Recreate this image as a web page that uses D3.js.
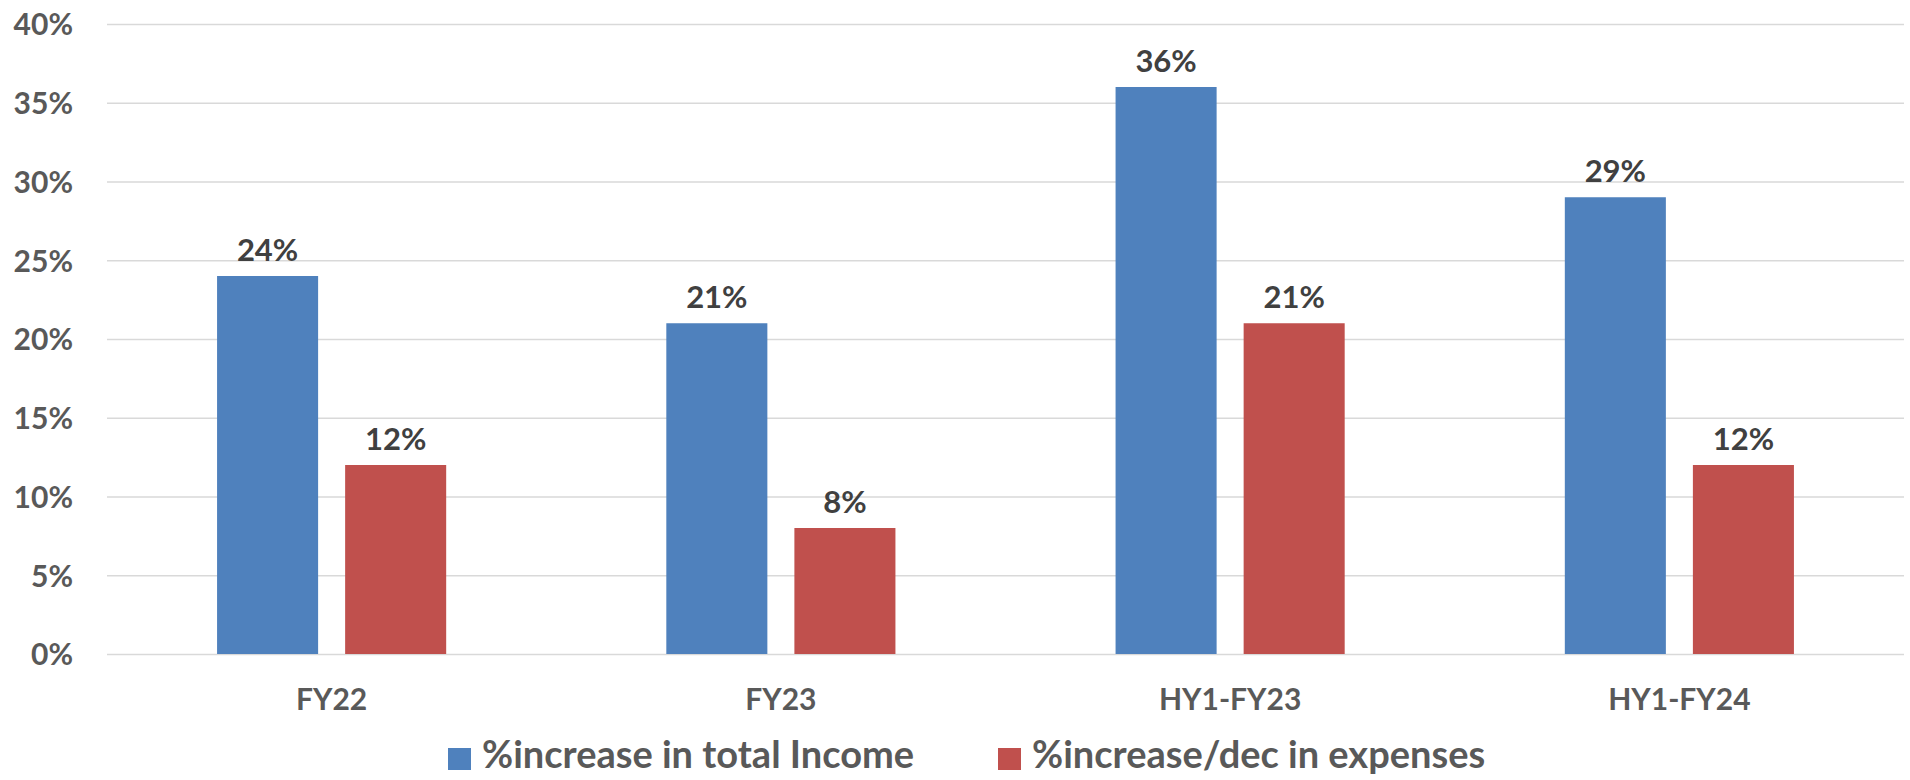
<!DOCTYPE html>
<html>
<head>
<meta charset="utf-8">
<script src="https://cdn.jsdelivr.net/npm/d3@7"></script>
<style>
  body { margin: 0; background: #fff; }
  text { font-family: Lato, "Open Sans", sans-serif; font-weight: bold; }
  .axis path { display: none; }
  .axis line { stroke: #d9d9d9; stroke-width: 1.5; }
  .axis text { fill: #595959; font-size: 30px; }
</style>
</head>
<body>
<svg id="chart"></svg>
<script>
var categories = ["FY22", "FY23", "HY1-FY23", "HY1-FY24"];
var seriesNames = ["%increase in total Income", "%increase/dec in expenses"];
var incomeValues = [0.24, 0.21, 0.36, 0.29];
var expenseValues = [0.12, 0.08, 0.21, 0.12];
var yTicks = [0, 0.05, 0.10, 0.15, 0.20, 0.25, 0.30, 0.35, 0.40];
var colors = ["#4f81bd", "#c0504d"];

var width = 1910, height = 780;
var margin = {top: 24, right: 6, bottom: 126, left: 107};

var svg = d3.select("#chart")
  .attr("width", width)
  .attr("height", height);

// scales
var x0 = d3.scaleBand()
  .domain(categories)
  .range([margin.left, width - margin.right])
  .paddingInner(0.49)
  .paddingOuter(0.245);

var x1 = d3.scaleBand()
  .domain(seriesNames)
  .range([0, x0.bandwidth()])
  .paddingInner(0.211)
  .paddingOuter(0);

var y = d3.scaleLinear()
  .domain([0, 0.4])
  .range([height - margin.bottom, margin.top]);

// gridlines + y labels
svg.append("g")
  .attr("class", "y axis")
  .attr("transform", "translate(" + margin.left + ",0)")
  .call(d3.axisLeft(y)
    .tickValues(yTicks)
    .tickFormat(d3.format(".0%"))
    .tickSize(-(width - margin.left - margin.right))
    .tickPadding(34))
  .selectAll("text")
    .attr("dy", "0.36em");

// data rows
var rows = categories.map(function(c, i) {
  return {cat: c, values: [incomeValues[i], expenseValues[i]]};
});

var groups = svg.selectAll(".group")
  .data(rows)
  .enter().append("g")
    .attr("class", "group")
    .attr("transform", function(d) { return "translate(" + x0(d.cat) + ",0)"; });

var bars = groups.selectAll(".bar")
  .data(function(d) {
    return d.values.map(function(v, j) { return {name: seriesNames[j], value: v, idx: j}; });
  })
  .enter();

bars.append("rect")
  .attr("class", "bar")
  .attr("x", function(d) { return x1(d.name); })
  .attr("y", function(d) { return y(d.value); })
  .attr("width", x1.bandwidth())
  .attr("height", function(d) { return y(0) - y(d.value); })
  .attr("fill", function(d) { return colors[d.idx]; });

bars.append("text")
  .attr("x", function(d) { return x1(d.name) + x1.bandwidth() / 2; })
  .attr("y", function(d) { return y(d.value) - 15; })
  .attr("text-anchor", "middle")
  .attr("fill", "#404040")
  .style("font-size", "31px")
  .text(function(d) { return d3.format(".0%")(d.value); });

// category labels
svg.selectAll(".cat-label")
  .data(categories)
  .enter().append("text")
    .attr("class", "cat-label")
    .attr("x", function(d) { return x0(d) + x0.bandwidth() / 2; })
    .attr("y", 710)
    .attr("text-anchor", "middle")
    .attr("fill", "#595959")
    .style("font-size", "30px")
    .text(function(d) { return d; });

// legend
var legendX = [448, 998];
var legend = svg.selectAll(".legend")
  .data(seriesNames)
  .enter().append("g")
    .attr("class", "legend")
    .attr("transform", function(d, i) { return "translate(" + legendX[i] + ",748)"; });

legend.append("rect")
  .attr("width", 23)
  .attr("height", 22)
  .attr("fill", function(d, i) { return colors[i]; });

legend.append("text")
  .attr("x", 34)
  .attr("y", 20)
  .attr("fill", "#595959")
  .style("font-size", "38px")
  .text(function(d) { return d; });
</script>
</body>
</html>
